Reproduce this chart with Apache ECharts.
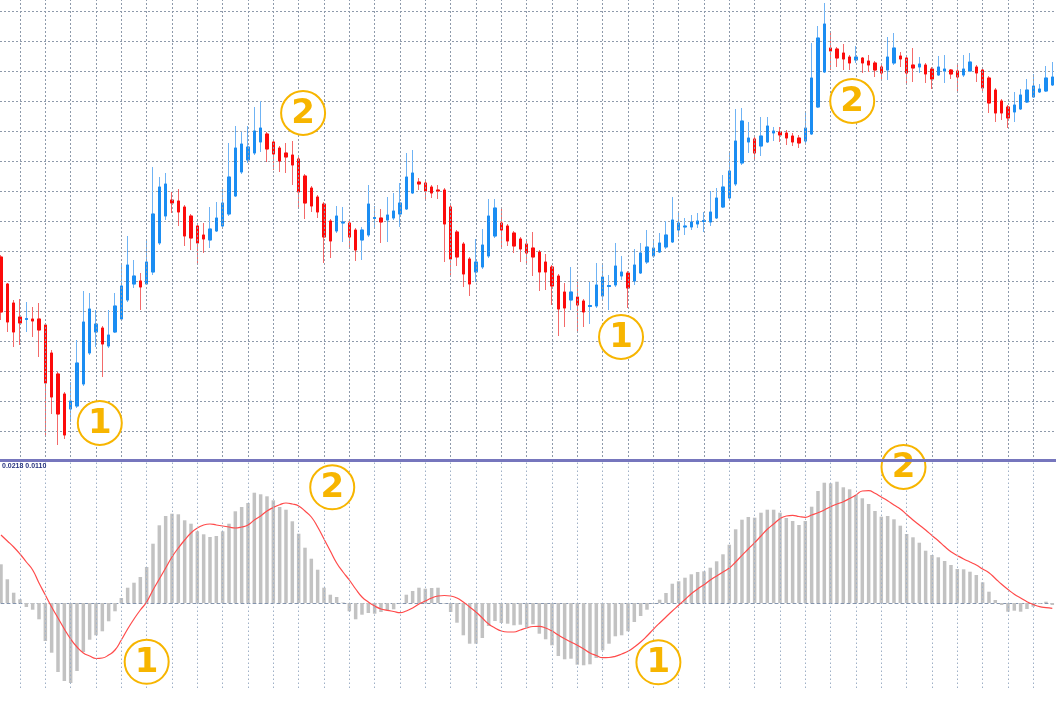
<!DOCTYPE html>
<html>
<head>
<meta charset="utf-8">
<script src="https://cdn.jsdelivr.net/npm/echarts@6/dist/echarts.min.js"></script>
<style>
html,body{margin:0;padding:0;background:#fff;}
#c{width:1056px;height:716px;}
</style>
</head>
<body>
<div id="c"></div>
<script>
// ---- price candles (one per bar) ----
const openP  = [204,177,158,144,141.5,142,142,136,108,87,67,52,55,77,108,129,133,115,129,142,161,177,180,177,189,218,245,261,260,254,245,235,226,221,230,235,247,265,289,301,308,319,327,319,313,308,306,302,285,273,264,257,240,230,238,238,231,221,226,242.5,243,241,243,247,252,268,279,278,274,271,271,254,229,217,202,189,194,205,225,238,235,228,222,217,213,209,199,194,185,169,161,164,160,154.5,155,165,174.5,176,185,188,180,188,199,205,209,214,219,231,234,234,237,239.5,239,243,254,263,277,298,319,322,315,319,328,329,328,325,323,320,327,354,389,413,412,408,404,401,403,400,398,394,391,398,405,403,396,394,396,392,386,390,391,390,386,390,394,391,383,371,360,354,349,352,359,364,369,370,376];
const closeP = [149,139,129,138,142.5,140,131,78,64,47,26,60,98,139,152,137,117,126,155,175,196,185,174,199,247,274,277,258,249,225,223,218,222,232,243,258,284,313,317,314,330,333,312,307,300,304,296,269,258,255,249,224,220,245,239,224,211,231,257,243.5,239,246,250,258,284,288,277,270,268,270,237,202,204,187,177,199,216,245,253,231,220,215,212,208,204,189,189,175,152,153,169,156,149,155.5,176,184,175.5,195,189,173,196,208,214,213,218,226,241,238,235,239,240,240.5,249,263,274,290,320,340,323,308,325,335,330,326,323,319,318,333,383,423,437,410,403,402,398,404,398,396,391,388,404,413,402,388,393,397,387,382,394,392,387,384,392,399,388,373,358,348,348,343,356,366,371,375,372,383,384];
const lowP   = [141,129,114,116,129,124,104,24,47,16,22,39,53,75,106,114,84,113,128,141,159,173,151,176,186,216,241,248,235,215,211,196,208,213,229,233,245,264,287,298,306,309,299,291,289,288,276,254,242,249,243,198,203,228,219,213,200,201,224,233,218,219,241,234,251,267,271,261,263,262,199,184,195,174,165,179,192,203,223,214,215,208,199,198,185,170,171,156,125,134,151,128,134,137,153,161,151,174,181,153,176,187,197,203,208,212,218,224,226,231,233,229,235,242,253,262,275,296,308,301,305,318,320,319,316,315,313,318,326,353,388,391,394,391,391,398,388,389,384,381,381,396,394,378,379,388,378,372,385,378,382,369,384,389,379,368,348,339,341,333,339,351,358,363,368,369,375];
const highP  = [206,178,161,162,159,154,158,138,111,89,69,79,121,170,168,151,135,151,168,198,225,201,188,221,294,284,288,269,272,256,247,237,238,254,259,273,318,335,329,335,354,360,329,321,315,318,320,304,287,275,266,259,242,255,254,240,233,234,276,255,252,264,268,278,308,311,283,281,276,276,273,256,231,219,204,222,232,262,262,254,237,230,224,222,229,211,207,196,187,178,194,179,162,179,198,196,186,218,205,190,212,218,231,221,228,240,264,249,243,246,248,249,270,273,286,308,352,353,339,324,344,344,334,334,331,328,326,349,418,435,458,429,414,417,406,415,404,406,400,396,424,428,409,404,413,404,398,394,405,406,392,398,406,408,396,393,385,373,362,356,369,372,382,387,377,395,399];

// ---- MACD panel ----
const macdHist = [38.7,23.7,10.3,3.7,-4,-6.7,-16.3,-38,-49.7,-69,-78,-80,-68,-49,-36.7,-32.3,-28.3,-18.3,-8.3,5,15.3,20.3,26,36,59.3,77.7,87,89.3,88.7,82.7,79.3,71.7,68.7,66,67,71.7,79.3,91.7,96,100,110.3,108.7,106.7,102.7,96,93.3,81.7,69.3,55.3,44.3,33.3,15.3,8.3,6,0.5,-8.3,-16.3,-11.7,-10,-10.7,-9,-7.3,-6.3,-0.5,8.3,12,15.3,14.3,15,15.3,-0.5,-9,-19.7,-32.3,-40.7,-40.7,-35,-23,-18,-20,-20.7,-22.3,-21.7,-24.7,-21.3,-30.7,-36.3,-42.3,-53,-56.3,-55.7,-61.7,-62.3,-61.3,-55,-47.3,-40.7,-33.3,-32.3,-28.3,-19,-13,-6.7,-1,3.3,10,19.3,21.7,25.3,28.7,31,31.7,35.3,41.7,48.7,58.3,73.7,83.3,86,85.3,90.3,93.3,93.3,90.3,85,82,78,82,96.3,112,120.3,119.7,121.3,115.7,113.7,108,104.7,99,92,86.3,87,83.7,77.3,69,65.7,60.3,52.3,48,45.7,42,38,34,33.7,31.3,28,20.7,11.3,3,-2,-8.7,-7.7,-8.7,-6,-3.7,-1,1.3,-2];
const macdSignal = [68,62,56,49,41,33,20,8,-4,-15,-26,-36,-44,-50,-53,-55.5,-55,-52,-47,-37,-26,-16,-7,1,13,24,35,46,55,63,70,75,78,79,78,77,76,75,76,78,83,87,92,95.5,98.3,100,99,97,92,86,76,64,52,40,31,23,14,6,1,-3,-6,-7.3,-8.5,-9.7,-8,-5,-1,2,5,7,7.5,7,5,1,-4,-9,-15,-21,-25,-28,-29,-29,-27,-25,-23.5,-23.3,-25,-28,-32,-35.7,-39,-42.3,-46,-50,-52.5,-54.7,-54.5,-53.3,-51,-48.3,-44,-39,-33,-26.3,-20,-14,-8,-2.3,3.5,9.3,14,18.3,23,27,31,35,41,47.7,54,60.3,67,73.7,79,84.3,87,87.7,86.5,85.7,88,90.3,93,96.3,99,101.3,104.5,108,112,112.3,109.7,106,102.3,98,94,88.5,83,78,73,67.5,62.3,56.5,51.3,47.5,44,41,38,34,30.3,24.5,18.7,13.5,8.7,5,1.3,-1.5,-3.7,-4.7,-5.3];
const macdLabel = '0.0218 0.0110';

// ---- annotations: [bar position (0-based), value, label] ----
const priceNotes = [[15.6, 38, '1'], [47.7, 348, '2'], [97.9, 124, '1'], [134.4, 360, '2']];
const macdNotes  = [[23.0, -58.8, '1'], [52.3, 115.7, '2'], [103.8, -59.3, '1'], [142.5, 136, '2']];

const barNums = openP.map((_, i) => String(i + 1));
const candleRows = openP.map((o, i) => [o, closeP[i], lowP[i], highP[i]]);
const bodyRows = openP.map((o, i) => [o, closeP[i], Math.min(o, closeP[i]), Math.max(o, closeP[i])]);
// vertical grid: every 4th bar, starting with the 4th
const gridBars = barNums.filter((_, i) => i % 4 === 3);
const emptyRows = barNums.map(() => null);

const BLUE = '#1b8df2', BLUE_W = '#6fb3f4', RED = '#fc0b0b', RED_W = '#f36a6a', ORANGE = '#f7b500';
const GRID_C = '#8e9aab';

const chart = echarts.init(document.getElementById('c'), null, {renderer: 'canvas'});
const hidden = {axisLabel: {show: false}, axisTick: {show: false}, axisLine: {show: false}, splitLine: {show: false}};
const noteSeries = (xi, data) => ({
  type: 'scatter', xAxisIndex: xi, yAxisIndex: xi, data: data, clip: false, z: 10,
  symbol: 'circle', symbolSize: 44, silent: true,
  itemStyle: {color: '#ffffff', opacity: 1, borderColor: ORANGE, borderWidth: 2},
  label: {show: true, position: 'inside', formatter: p => p.value[2], color: ORANGE, opacity: 1,
          textBorderWidth: 0, fontSize: 34, fontWeight: 'bold', fontFamily: 'DejaVu Sans', offset: [0, 1]}
});
const vLines = (ai, style) => ({
  type: 'line', xAxisIndex: ai, yAxisIndex: ai, data: emptyRows, showSymbol: false, silent: true, z: 1,
  lineStyle: {width: 0},
  markLine: {silent: true, symbol: ['none', 'none'], animation: false, label: {show: false},
    lineStyle: style, emphasis: {disabled: true},
    data: gridBars.map(b => ({xAxis: b}))}
});

chart.setOption({
  animation: false,
  backgroundColor: '#ffffff',
  grid: [
    {left: 1, right: 3.7, top: 0, height: 461, outerBoundsMode: 'none'},
    {left: 1, right: 3.7, top: 461, height: 227, outerBoundsMode: 'none'},
    {left: 0, right: 0, top: 11, height: 450, outerBoundsMode: 'none'},
    {left: 0, right: 0, top: 461, height: 227, outerBoundsMode: 'none'}
  ],
  xAxis: [
    {type: 'category', gridIndex: 0, data: barNums, boundaryGap: false,
     axisLabel: {show: false}, axisTick: {show: false}, axisLine: {show: false}, splitLine: {show: false}},
    {type: 'category', gridIndex: 1, data: barNums, boundaryGap: false,
     axisLabel: {show: false}, axisTick: {show: false}, splitLine: {show: false},
     axisLine: {show: true, onZero: true, lineStyle: {color: '#8494ad', type: [3, 3], width: 1}}},
    Object.assign({type: 'value', gridIndex: 2, min: -0.158, max: 166.58}, hidden),
    Object.assign({type: 'value', gridIndex: 3, min: -0.158, max: 166.58}, hidden)
  ],
  yAxis: [
    Object.assign({type: 'value', gridIndex: 0, min: 0, max: 461}, hidden),
    Object.assign({type: 'value', gridIndex: 1, min: -85, max: 142}, hidden),
    {type: 'value', gridIndex: 2, min: 0, max: 450, interval: 30,
     axisLabel: {show: false}, axisTick: {show: false}, axisLine: {show: false},
     splitLine: {show: true, lineStyle: {color: GRID_C, type: [2, 2], width: 1}}},
    Object.assign({type: 'value', gridIndex: 3, min: -85, max: 142}, hidden)
  ],
  series: [
    vLines(0, {color: GRID_C, type: [2, 2], width: 1}),
    vLines(1, {color: '#9fb0c6', type: [1.5, 2.5], width: 1}),
    {type: 'candlestick', xAxisIndex: 0, yAxisIndex: 0, data: candleRows, clip: false, barWidth: 3,
     itemStyle: {color: BLUE_W, color0: RED_W, borderColor: BLUE_W, borderColor0: RED_W, borderWidth: 1}},
    {type: 'candlestick', xAxisIndex: 0, yAxisIndex: 0, data: bodyRows, clip: false, barWidth: 3, z: 3,
     itemStyle: {color: BLUE, color0: RED, borderColor: BLUE, borderColor0: RED, borderWidth: 1}},
    {type: 'bar', xAxisIndex: 1, yAxisIndex: 1, data: macdHist, barWidth: 3.5,
     itemStyle: {color: '#c2c2c2'}},
    {type: 'line', xAxisIndex: 1, yAxisIndex: 1, data: macdSignal, smooth: true, symbol: 'none',
     lineStyle: {color: '#ff4a4a', width: 1.2}, z: 4},
    noteSeries(2, priceNotes),
    noteSeries(3, macdNotes)
  ],
  graphic: [
    {type: 'rect', left: 0, top: 459, shape: {width: 1056, height: 3}, style: {fill: '#7676bd'}, z: 100},
    {type: 'text', left: 2, top: 462.5, style: {text: macdLabel, fill: '#27337f', fontSize: 7,
      fontFamily: 'Liberation Sans', fontWeight: 'bold'}, z: 100}
  ]
});
</script>
</body>
</html>
